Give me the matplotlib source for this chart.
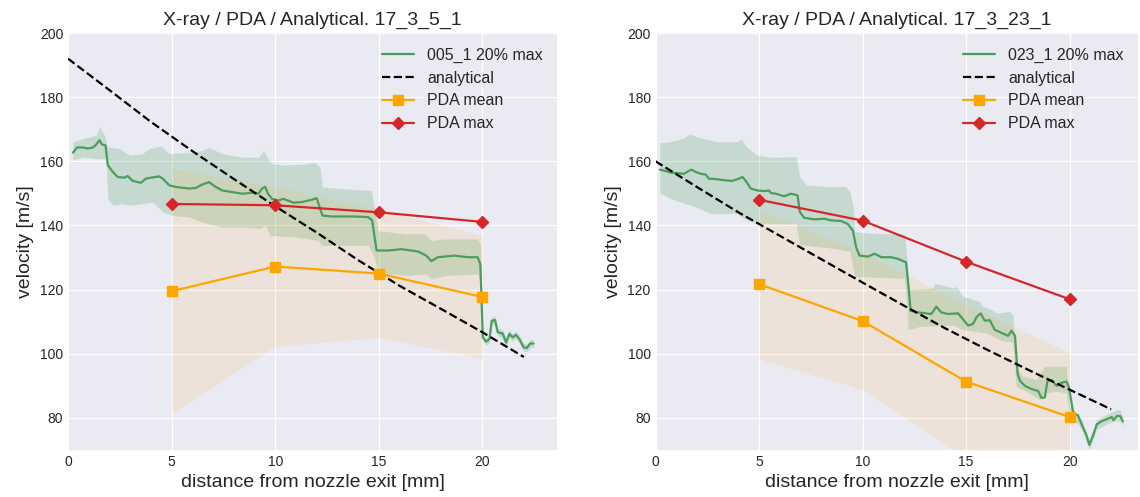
import numpy as np
import matplotlib
matplotlib.use("Agg")
import matplotlib.pyplot as plt

# ---- left case 17_3_5_1 ----
l_xray_x = [0.24, 0.43, 0.72, 0.96, 1.2, 1.36, 1.52, 1.65, 1.81, 1.92, 2.16, 2.4, 2.72, 2.88,
            3.12, 3.52, 3.76, 4.0, 4.41, 4.57, 4.89, 5.21, 5.85, 6.17, 6.49, 6.81, 7.13, 7.45,
            7.93, 8.41, 8.88, 9.2, 9.36, 9.52, 9.65, 9.84, 10.16, 10.4, 10.88, 11.28, 11.76,
            12.0, 12.28, 12.72, 13.85, 14.49, 14.68, 14.89, 15.45, 16.09, 16.89, 17.29, 17.53,
            17.85, 18.65, 19.29, 19.77, 19.9, 20.02, 20.18, 20.34, 20.45, 20.61, 20.74, 20.98,
            21.14, 21.3, 21.46, 21.62, 21.78, 21.99, 22.14, 22.31, 22.47]
l_xray_v = [162.7, 164.3, 164.3, 164.0, 164.3, 165.2, 166.6, 165.2, 165.0, 158.8, 156.7, 155.1,
            154.9, 155.4, 153.9, 153.3, 154.6, 154.9, 155.3, 154.6, 152.5, 152.0, 151.5, 151.7,
            152.8, 153.5, 152.0, 150.9, 150.4, 149.9, 150.2, 149.9, 151.5, 152.0, 149.9, 148.3,
            147.8, 148.3, 147.1, 147.3, 148.0, 148.5, 143.1, 142.8, 142.8, 142.6, 141.6, 132.2,
            132.2, 132.6, 131.9, 130.6, 128.9, 130.1, 130.6, 130.1, 130.1, 128.0, 105.1, 103.8,
            104.6, 110.3, 110.5, 106.7, 106.3, 103.5, 106.2, 105.1, 105.9, 104.6, 102.0, 101.8,
            103.2, 103.2]

l_up_x = [0.24, 0.72, 1.36, 1.52, 1.76, 1.92, 2.48, 2.96, 3.6, 3.92, 4.49, 4.89, 5.85, 6.49,
          6.81, 7.45, 8.41, 9.2, 9.44, 9.6, 9.84, 10.48, 11.28, 11.92, 12.16, 12.28, 13.2, 13.85,
          14.64, 14.8, 14.97, 16.25, 17.21, 17.53, 18.17, 19.77, 19.9, 20.02, 20.18, 20.34,
          20.45, 20.61, 20.74, 20.98, 21.14, 21.3, 21.46, 21.62, 21.78, 21.99, 22.14, 22.31, 22.47]
l_up_v = [166.0, 167.1, 168.1, 170.7, 168.1, 164.5, 164.0, 161.9, 162.4, 164.0, 164.8, 162.4,
          162.7, 163.4, 164.3, 162.4, 161.3, 161.3, 163.4, 161.3, 159.3, 158.8, 159.1, 159.6,
          158.2, 152.0, 151.5, 151.2, 150.9, 144.7, 138.4, 137.4, 137.4, 135.3, 135.8, 135.8,
          134.3, 106.0, 105.0, 106.0, 111.5, 111.7, 108.0, 107.5, 104.8, 107.4, 106.3, 107.1,
          105.8, 103.3, 103.0, 104.5, 104.4]
l_lo_x = [0.24, 0.72, 1.36, 1.84, 1.92, 2.16, 2.64, 2.96, 3.6, 4.09, 4.57, 5.05, 5.85, 6.49,
          7.45, 8.41, 9.28, 9.52, 9.76, 10.88, 11.68, 12.08, 12.24, 14.49, 14.8, 14.97, 15.8,
          16.25, 17.3, 17.53, 18.2, 19.77, 19.9, 20.02, 20.18, 20.34, 20.45, 20.61, 20.74,
          20.98, 21.14, 21.3, 21.46, 21.62, 21.78, 21.99, 22.14, 22.31, 22.47]
l_lo_v = [160.5, 161.3, 160.8, 160.8, 148.3, 146.3, 146.8, 146.3, 146.8, 147.3, 144.2, 143.1,
          142.6, 141.0, 139.5, 139.5, 139.0, 140.0, 136.9, 136.4, 135.8, 135.3, 133.8, 133.8,
          130.0, 124.4, 124.9, 124.4, 124.9, 123.3, 124.4, 124.9, 123.0, 104.0, 102.6, 103.4,
          109.0, 109.3, 105.5, 105.0, 102.2, 105.0, 104.0, 104.7, 103.4, 100.8, 100.6, 102.0,
          102.0]

l_ana_x = [0, 2, 4, 6, 8, 10, 12, 14, 16, 18, 20, 22]
l_ana_v = [192.0, 182.2, 172.3, 163.2, 154.5, 146.0, 137.8, 129.2, 121.2, 114.0, 106.7, 99.0]

pda_x = [5, 10, 15, 20]
l_pda_mean = [119.5, 127.2, 125.0, 117.7]
l_pda_std = [38.3, 24.9, 19.9, 19.3]
l_pda_max = [146.7, 146.3, 144.1, 141.1]

# ---- right case 17_3_23_1 ----
r_xray_x = [0.21, 0.48, 0.73, 1.05, 1.37, 1.53, 1.73, 1.94, 2.18, 2.42, 2.58, 2.99, 3.31, 3.71,
            4.03, 4.2, 4.36, 4.6, 4.93, 5.25, 5.49, 5.57, 5.81, 6.21, 6.54, 6.86, 6.97, 7.18,
            7.67, 8.15, 8.47, 8.96, 9.28, 9.53, 9.69, 9.85, 10.26, 10.58, 10.9, 11.38, 11.7,
            12.1, 12.22, 12.32, 12.67, 13.32, 13.56, 13.8, 14.13, 14.61, 14.77, 15.09, 15.33,
            15.5, 15.7, 15.9, 16.14, 16.38, 16.71, 17.03, 17.19, 17.36, 17.49, 17.6, 17.84,
            18.16, 18.48, 18.64, 18.8, 18.93, 19.13, 19.37, 19.61, 19.85, 19.97, 20.18, 20.39,
            20.58, 20.82, 20.95, 21.15, 21.31, 21.55, 21.79, 22.03, 22.11, 22.28, 22.44, 22.57]
r_xray_v = [157.4, 157.0, 156.5, 156.3, 156.1, 156.7, 157.4, 156.7, 156.1, 155.9, 154.6, 154.4,
            154.1, 153.9, 154.6, 155.1, 153.9, 151.5, 150.9, 150.7, 150.9, 150.1, 149.9, 149.1,
            149.9, 149.4, 144.2, 142.4, 141.9, 142.1, 141.6, 141.4, 140.5, 138.4, 133.2, 130.6,
            130.3, 131.2, 130.1, 130.1, 129.6, 128.5, 120.7, 113.4, 112.9, 112.4, 114.7, 112.9,
            112.4, 112.6, 111.4, 108.8, 109.3, 111.4, 112.6, 110.3, 110.5, 107.5, 106.5, 105.6,
            107.2, 105.6, 93.6, 91.6, 90.0, 89.0, 88.4, 86.2, 86.4, 91.6, 91.8, 90.0, 91.0, 91.3,
            89.5, 81.2, 80.9, 78.0, 74.4, 71.6, 74.9, 78.0, 79.0, 79.6, 80.3, 79.3, 80.6, 80.6,
            78.9]

r_up_x = [0.21, 0.69, 1.33, 1.66, 1.98, 2.94, 3.91, 4.15, 4.39, 4.87, 5.51, 6.16, 6.8, 6.96,
          7.29, 8.41, 8.9, 9.14, 9.38, 9.54, 9.62, 10.34, 11.15, 12.03, 12.14, 12.27, 13.4, 13.48,
          14.36, 14.53, 14.85, 15.65, 15.81, 16.13, 16.45, 17.1, 17.26, 17.39, 17.75, 18.39,
          18.79, 19.36, 19.84, 20.0, 20.18, 20.58, 20.95, 21.31, 21.79, 22.03, 22.28, 22.44, 22.57]
r_up_v = [165.8, 166.1, 167.2, 168.5, 167.7, 166.1, 166.1, 166.9, 164.6, 162.0, 161.3, 161.3,
          161.5, 155.2, 152.6, 152.1, 152.1, 152.3, 150.6, 146.0, 138.1, 137.6, 137.4, 137.4,
          129.3, 120.0, 120.5, 122.0, 120.5, 121.0, 117.9, 116.3, 114.7, 114.2, 112.7, 113.2,
          112.1, 96.1, 93.0, 92.0, 96.1, 96.1, 96.1, 83.6, 82.7, 79.5, 73.1, 79.5, 81.1, 81.8,
          82.6, 82.5, 80.4]
r_lo_x = [0.21, 0.69, 1.33, 1.98, 2.62, 3.26, 3.91, 4.39, 4.87, 6.8, 6.96, 8.41, 9.38, 9.62,
          12.03, 12.14, 12.2, 12.76, 14.36, 14.85, 15.98, 16.62, 17.26, 17.42, 18.06, 18.55,
          18.79, 19.36, 19.84, 20.0, 20.18, 20.58, 20.95, 21.31, 21.79, 22.03, 22.28, 22.44, 22.57]
r_lo_v = [150.1, 148.5, 147.0, 145.7, 143.8, 143.6, 143.8, 141.7, 140.7, 140.5, 134.0, 133.0,
          132.0, 124.1, 123.5, 115.0, 107.5, 108.5, 109.0, 107.5, 106.5, 104.3, 103.5, 89.8,
          87.8, 85.7, 87.8, 88.3, 87.8, 80.0, 79.7, 76.5, 70.1, 76.5, 78.1, 78.8, 79.1, 79.0, 77.4]

r_ana_x = [0, 2, 4, 6, 8, 10, 12, 14, 16, 18, 20, 22]
r_ana_v = [160.0, 152.0, 144.1, 136.8, 129.5, 122.2, 115.0, 107.9, 101.3, 95.0, 88.8, 82.7]

r_pda_mean = [121.7, 110.2, 91.3, 80.3]
r_pda_std = [23.3, 21.4, 24.0, 20.0]
r_pda_max = [148.0, 141.5, 128.7, 117.0]

plt.style.use("seaborn-v0_8-darkgrid")
plt.rcParams["font.sans-serif"] = ["Arial", "Liberation Sans", "DejaVu Sans"]

green = "#4a9e5c"
fig = plt.figure(figsize=(11.4, 4.97), dpi=100)
ax1 = fig.add_axes([68 / 1140, 47 / 497, 489 / 1140, 417 / 497])
ax2 = fig.add_axes([655.5 / 1140, 47 / 497, 482.5 / 1140, 417 / 497])

cases = [
    (ax1, "17_3_5_1", "005_1", l_xray_x, l_xray_v, l_up_x, l_up_v, l_lo_x, l_lo_v,
     l_ana_x, l_ana_v, l_pda_mean, l_pda_std, l_pda_max, 23.6),
    (ax2, "17_3_23_1", "023_1", r_xray_x, r_xray_v, r_up_x, r_up_v, r_lo_x, r_lo_v,
     r_ana_x, r_ana_v, r_pda_mean, r_pda_std, r_pda_max, 23.3),
]

for (ax, case, run, xx, xv, ux, uv, lx, lv, ax_, av, pm, ps, pmax, xr) in cases:
    # green band: build on a common x grid from the two edges
    bx = np.union1d(ux, lx)
    ax.fill_between(bx, np.interp(bx, lx, lv), np.interp(bx, ux, uv),
                    color=green, alpha=0.22, lw=0)
    ax.plot(xx, xv, color=green, lw=1.6, label=run + " 20% max")
    ax.plot(ax_, av, "k--", lw=1.6, label="analytical")
    pm = np.array(pm)
    ps = np.array(ps)
    ax.fill_between(pda_x, pm - ps, pm + ps, color="orange", alpha=0.1, lw=0)
    ax.plot(pda_x, pm, color="orange", marker="s", ms=7, lw=1.6, label="PDA mean")
    ax.plot(pda_x, pmax, color="#d62728", marker="D", ms=6.5, lw=1.6, label="PDA max")
    ax.set_xlim(0, xr)
    ax.set_ylim(70, 200)
    ax.set_xticks([0, 5, 10, 15, 20])
    ax.set_yticks([80, 100, 120, 140, 160, 180, 200])
    ax.tick_params(labelsize=10)
    ax.set_title("X-ray / PDA / Analytical. " + case, fontsize=14)
    ax.set_xlabel("distance from nozzle exit [mm]", fontsize=14)
    ax.set_ylabel("velocity [m/s]", fontsize=14)
    ax.legend(loc="upper right", fontsize=11.5)

fig.savefig("out.png", dpi=100)
